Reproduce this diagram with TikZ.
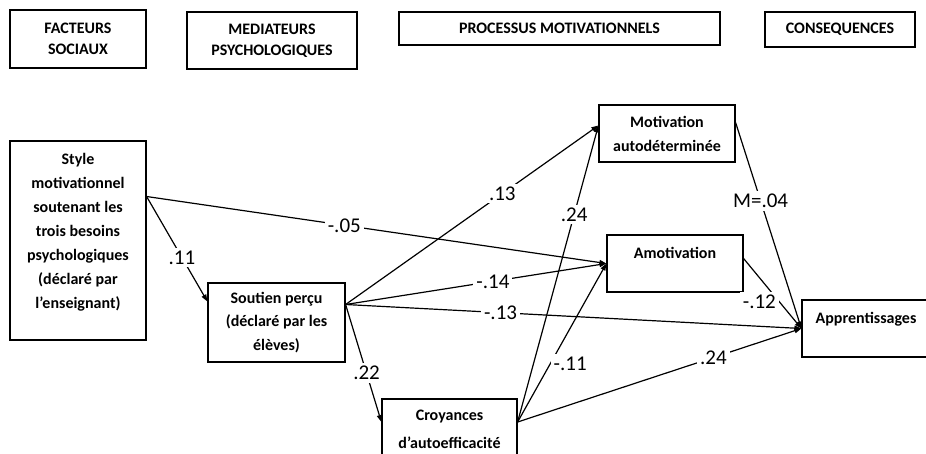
\documentclass[tikz,border=0pt]{standalone}
\usepackage{fontspec}
\setmainfont{Carlito}
\usetikzlibrary{arrows.meta}

\tikzset{
  hdr/.style={draw, line width=1.2pt, align=center, inner sep=0pt, font=\fontsize{16}{21}\selectfont\bfseries},
  var/.style={draw, line width=1.2pt, align=center, inner sep=0pt, font=\fontsize{16}{22}\selectfont\bfseries},
  path/.style={-{Triangle[length=7pt,width=5pt]}, line width=1.2pt},
  coef/.style={fill=white, inner sep=3pt, font=\fontsize{21}{22}\selectfont}
}

\begin{document}
\begin{tikzpicture}[x=1pt,y=-1pt]
\useasboundingbox (0,0) rectangle (926,453);
\node [hdr, minimum width=136pt, minimum height=58pt] (fs) at (78,39) {FACTEURS\\SOCIAUX};
\node [hdr, minimum width=170pt, minimum height=57pt] (mp) at (272,40.5) {MEDIATEURS\\PSYCHOLOGIQUES};
\node [hdr, minimum width=321pt, minimum height=33pt] (pm) at (559.5,28.5) {PROCESSUS MOTIVATIONNELS};
\node [hdr, minimum width=150pt, minimum height=35pt] (cons) at (840,29.5) {CONSEQUENCES};
\node [var, minimum width=136pt, minimum height=199pt, font=\fontsize{16}{24}\selectfont\bfseries] (style) at (78,240.5) {Style\\motivationnel\\soutenant les\\trois besoins\\psychologiques\\(déclaré par\\l’enseignant)\\[-4pt]~};
\node [var, minimum width=137pt, minimum height=79pt, font=\fontsize{16}{23.5}\selectfont\bfseries] (sout) at (276.5,322.5) {Soutien perçu\\(déclaré par les\\élèves)};
\node [var, minimum width=135pt, minimum height=60pt, font=\fontsize{16}{28}\selectfont\bfseries] (croy) at (449.5,429) {Croyances\\d’autoefficacité};
\node [var, minimum width=136pt, minimum height=57pt, font=\fontsize{16}{24}\selectfont\bfseries] (mot) at (667,133.5) {Motivation\\autodéterminée};
\node [var, minimum width=136pt, minimum height=57pt] (amot) at (675,263.5) {Amotivation\\[0pt]~};
\node [var, minimum width=128pt, minimum height=57pt] (appr) at (866,328.5) {Apprentissages\\[0pt]~};
\draw [path] ([yshift=44pt]style.east) -- node [coef, pos=0.43] {-.05} (amot.west);
\draw [path] ([yshift=44pt]style.east) -- node [coef, pos=0.58] {.11} ([yshift=21pt]sout.west);
\draw [path] ([yshift=18pt]sout.east) -- node [coef, pos=0.62] {.13} ([yshift=8pt]mot.west);
\draw [path] ([yshift=18pt]sout.east) -- node [coef, pos=0.565] {-.14} (amot.west);
\draw [path] ([yshift=18pt]sout.east) -- node [coef, pos=0.34] {-.13} (appr.west);
\draw [path] ([yshift=18pt]sout.east) -- node [coef, pos=0.585] {.22} ([yshift=7pt]croy.west);
\draw [path] ([yshift=7pt]croy.east) -- node [coef, pos=0.70] {.24} ([yshift=8pt]mot.west);
\draw [path] ([yshift=7pt]croy.east) -- node [coef, pos=0.366, anchor=west] {-.11} (amot.west);
\draw [path] ([yshift=7pt]croy.east) -- node [coef, pos=0.69] {.24} (appr.west);
\draw [path] ([yshift=11pt]mot.east) -- node [coef, pos=0.38] {M=.04} (appr.west);
\draw [path] ([yshift=5pt]amot.east) -- node [coef, pos=0.62, anchor=east] {-.12} (appr.west);
\end{tikzpicture}
\end{document}
